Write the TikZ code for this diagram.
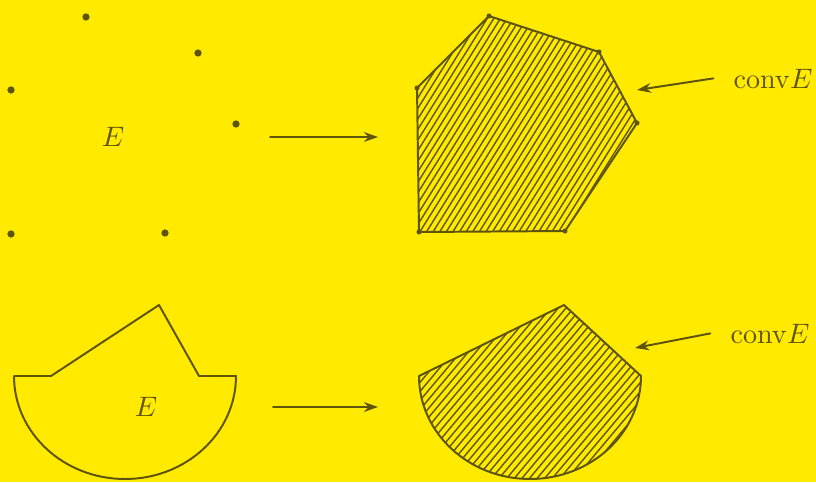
\documentclass[tikz,border=0pt]{standalone}
\usetikzlibrary{arrows.meta}
\definecolor{bgyellow}{RGB}{255,234,0}
\definecolor{inkol}{RGB}{95,85,10}

\begin{document}
\begin{tikzpicture}[line cap=round,line join=round,x=0.25cm,y=0.25cm,
	outline/.style={line width=0.7pt,color=inkol},
	hatch/.style={line width=0.5pt,color=inkol},
	pt/.style={fill=inkol},
	maparrow/.style={-{Stealth[length=5pt,width=3.5pt]},line width=0.7pt,color=inkol},
	lbl/.style={text=inkol,inner sep=0pt}]
	\fill[bgyellow] (0,0) rectangle (40.8,24.1);
	\useasboundingbox (0,0) rectangle (40.8,24.1);
	% the finite set E
	\fill[pt] (4.3,23.25) circle (1.3pt);
	\fill[pt] (9.9,21.45) circle (1.3pt);
	\fill[pt] (11.8,17.9) circle (1.3pt);
	\fill[pt] (8.25,12.45) circle (1.3pt);
	\fill[pt] (0.55,12.4) circle (1.3pt);
	\fill[pt] (0.55,19.6) circle (1.3pt);
	\draw (5.65,17.25) node[lbl] (setA) {$E$};
	\coordinate (fromA) at (13.5,17.25);
	\coordinate (toA) at (18.9,17.25);
	\draw[maparrow] (fromA) -- (toA);
	% its hull
	\begin{scope}
		\clip (24.45,23.3) -- (29.95,21.5) -- (31.85,17.95) -- (28.25,12.55) -- (20.95,12.5) -- (20.85,19.7) -- cycle;
		\foreach \i in {0,...,56}
			\draw[hatch] (14.2+\i*0.33,12.2) -- ++(58:13);
	\end{scope}
	\draw[outline] (24.45,23.3) -- (29.95,21.5) -- (31.85,17.95) -- (28.25,12.55) -- (20.95,12.5) -- (20.85,19.7) -- cycle;
	\foreach \p in {(24.45,23.3),(29.95,21.5),(31.85,17.95),(28.25,12.55),(20.95,12.5),(20.85,19.7)}
		\fill[pt] \p circle (0.9pt);
	\draw (36.65,19.7) node[lbl,anchor=base west] (convA) {$\mathrm{conv}E$};
	\coordinate (tipA) at (31.85,19.6);
	\draw[maparrow] ([xshift=-7pt]convA.west) -- (tipA);
	% the set E with a peak
	\draw[outline] (0.7,5.3) -- (2.55,5.3) -- (7.95,8.85) -- (9.95,5.3) -- (11.8,5.3)
		arc[start angle=0,end angle=-180,x radius=5.55,y radius=5.15] -- cycle;
	\draw (7.3,3.75) node[lbl] (setB) {$E$};
	\coordinate (fromB) at (13.65,3.75);
	\coordinate (toB) at (18.9,3.75);
	\draw[maparrow] (fromB) -- (toB);
	% its hull
	\begin{scope}
		\clip (20.95,5.3) -- (28.2,8.85) -- (32.05,5.3)
			arc[start angle=0,end angle=-180,x radius=5.55,y radius=5.15] -- cycle;
		\foreach \i in {0,...,50}
			\draw[hatch] (13.4+\i*0.38,0) -- ++(50:13);
	\end{scope}
	\draw[outline] (20.95,5.3) -- (28.2,8.85) -- (32.05,5.3)
		arc[start angle=0,end angle=-180,x radius=5.55,y radius=5.15] -- cycle;
	\draw (36.5,6.95) node[lbl,anchor=base west] (convB) {$\mathrm{conv}E$};
	\coordinate (tipB) at (31.75,6.7);
	\draw[maparrow] ([xshift=-7pt]convB.west) -- (tipB);
\end{tikzpicture}
\end{document}
